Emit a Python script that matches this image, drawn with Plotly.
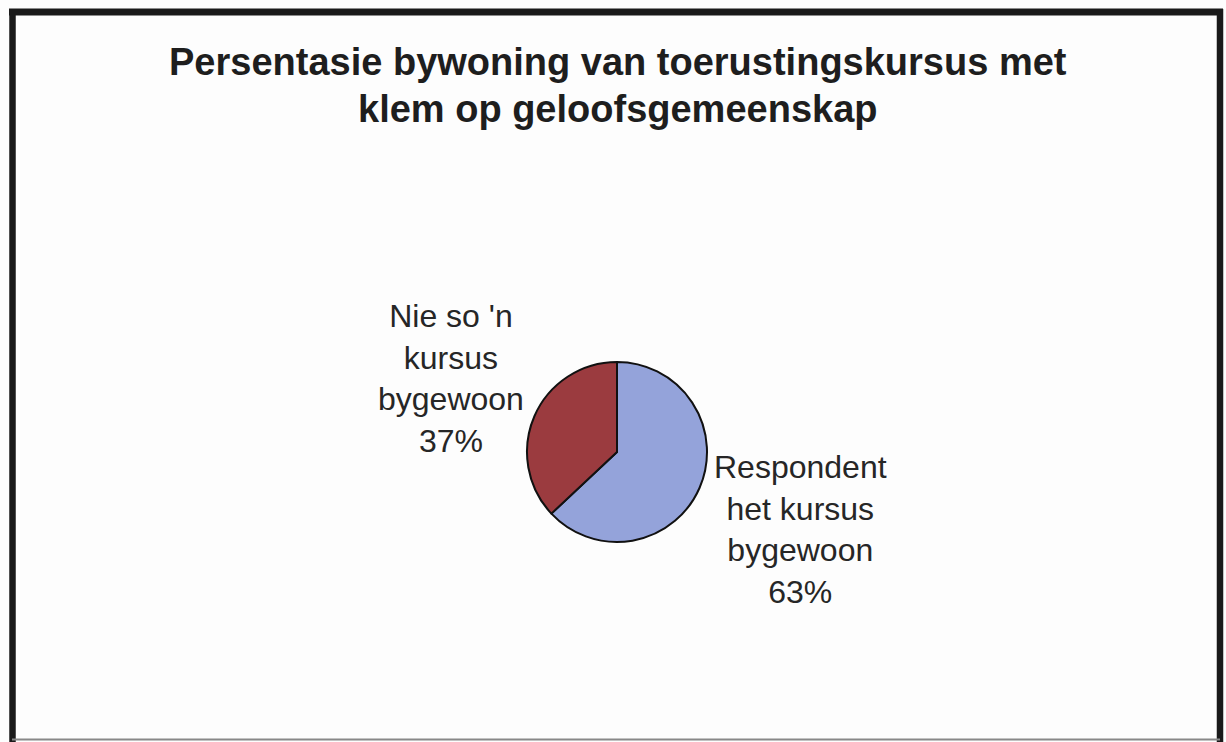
import plotly.graph_objects as go

title_lines = ["Persentasie bywoning van toerustingskursus met", "klem op geloofsgemeenskap"]
labels = ["Respondent<br>het kursus<br>bygewoon", "Nie so 'n<br>kursus<br>bygewoon"]
values = [63, 37]
colors = ["#94a3da", "#9b3b3f"]

W, H = 1226, 742
cx, cy, r = 617, 452, 90

fig = go.Figure()
fig.add_trace(go.Pie(
    labels=labels, values=values, sort=False, direction="clockwise", rotation=0,
    marker=dict(colors=colors, line=dict(color="#111111", width=2)),
    textinfo="none", hoverinfo="label+percent", showlegend=False,
    domain=dict(x=[(cx - r) / W, (cx + r) / W], y=[1 - (cy + r) / H, 1 - (cy - r) / H]),
))

label_pos = [(800, 529), (451, 378)]
font = "Arial, Liberation Sans, sans-serif"
for lab, val, (x, y) in zip(labels, values, label_pos):
    fig.add_annotation(x=x / W, y=1 - y / H, xref="paper", yref="paper",
                       text=f"{lab}<br>{val}%", showarrow=False, xanchor="center", yanchor="middle",
                       align="center", font=dict(family=font, size=32, color="#262626"))

for line, ty in zip(title_lines, [62, 109]):
    fig.add_annotation(x=618 / W, y=1 - ty / H, xref="paper", yref="paper",
                       text="<b>" + line + "</b>", showarrow=False,
                       xanchor="center", yanchor="middle", align="center",
                       font=dict(family=font, size=38, color="#1e1e1e"))

def px(x): return x / W
def py(y): return 1 - y / H

for x0, y0, x1, y1, col, w in [
    (12.5, 9, 12.5, 742, "#1a1a1a", 6.5),
    (9, 12, 1223, 12, "#1a1a1a", 7),
    (1220, 9, 1220, 742, "#1a1a1a", 6.5),
    (12, 739.5, 1220, 739.5, "#888888", 2),
]:
    fig.add_shape(type="line", xref="paper", yref="paper", x0=px(x0), y0=py(y0), x1=px(x1), y1=py(y1),
                  line=dict(color=col, width=w))

fig.update_layout(width=W, height=H, margin=dict(l=0, r=0, t=0, b=0),
                  paper_bgcolor="#fdfdfd", plot_bgcolor="#fdfdfd")
fig.write_html("out.html", config={"displayModeBar": False},
               post_script="document.body.style.margin='0px';document.body.style.padding='0px';")
